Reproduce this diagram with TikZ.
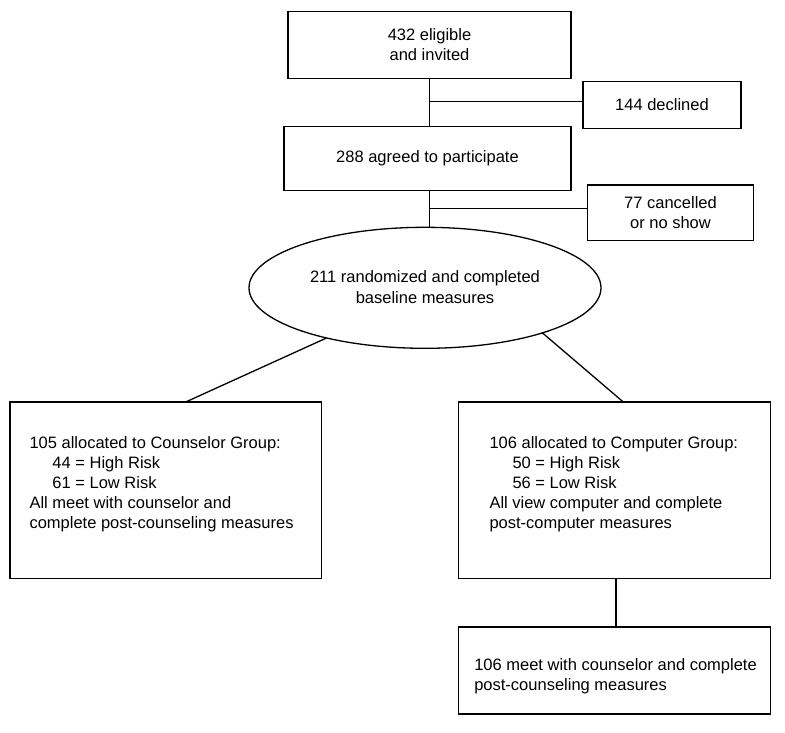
\documentclass[tikz,border=0pt]{standalone}
\usepackage{fontspec}
\setmainfont{Liberation Sans}
\usetikzlibrary{shapes.geometric}
\begin{document}
\begin{tikzpicture}[x=1pt,y=1pt,
  box/.style={draw, line width=1.3pt, inner sep=0pt, outer sep=0pt, align=center,
    font=\fontsize{16.5}{20}\selectfont},
  oval/.style={draw, ellipse, line width=1.3pt, inner sep=0pt, outer sep=0pt},
  txt/.style={inner sep=0pt, outer sep=0pt, font=\fontsize{16.5}{20}\selectfont},
  ovaltxt/.style={inner sep=0pt, outer sep=0pt, font=\fontsize{16.5}{20.5}\selectfont},
  link/.style={line width=1.3pt}]
\fill[white] (0,0) rectangle (785,-732);
\useasboundingbox (0,0) rectangle (785,-732);

% boxes
\node[box, minimum width=283pt, minimum height=67pt] (b1) at (429.5,-44.7)
  {432 eligible\\and invited};
\node[box, minimum width=158pt, minimum height=46.6pt] (dec) at (662,-105)
  {144 declined};
\node[box, minimum width=287pt, minimum height=63.6pt] (b2) at (427.5,-158.5)
  {288 agreed to participate};
\node[box, minimum width=165.6pt, minimum height=55.7pt] (can) at (670.5,-212.9)
  {77 cancelled\\or no show};
\node[oval, minimum width=352pt, minimum height=121pt] (ell) at (425,-287.8) {};
\node[box, minimum width=311.7pt, minimum height=176.3pt] (b3) at (165.85,-490.15) {};
\node[box, minimum width=312pt, minimum height=176.3pt] (b4) at (614.7,-490.15) {};
\node[box, minimum width=312pt, minimum height=87pt] (b5) at (614.7,-670.5) {};

% texts of the ellipse and of the lower boxes
\node[ovaltxt, anchor=base] (ellt) at (425,-282.5)
  {\begin{tabular}[t]{@{}c@{}}211 randomized and completed\\baseline measures\end{tabular}};
\node[txt, anchor=base west] (b3t) at (29.5,-448)
  {\begin{tabular}[t]{@{}l@{}}105 allocated to Counselor Group:\\
   \hspace*{23pt}44 = High Risk\\
   \hspace*{23pt}61 = Low Risk\\
   All meet with counselor and\\
   complete post-counseling measures\end{tabular}};
\node[txt, anchor=base west] (b4t) at (489.5,-448.5)
  {\begin{tabular}[t]{@{}l@{}}106 allocated to Computer Group:\\
   \hspace*{23pt}50 = High Risk\\
   \hspace*{23pt}56 = Low Risk\\
   All view computer and complete\\
   post-computer measures\end{tabular}};
\node[txt, anchor=base west] (b5t) at (474.3,-670.5)
  {\begin{tabular}[t]{@{}l@{}}106 meet with counselor and complete\\
   post-counseling measures\end{tabular}};

% junctions
\coordinate (j1) at (429.3,-101.5);
\coordinate (j2) at (429.3,-208.2);

% connectors
\draw[link] (b1.south -| j1) -- (b2.north -| j1);
\draw[link] (j1) -- (dec.west |- j1);
\draw[link] (b2.south -| j2) -- (ell.north -| j2);
\draw[link] (j2) -- (can.west |- j2);
\draw[link] (ell.207) -- ([xshift=19.85pt]b3.north);
\draw[link] (ell.339.3) -- ([xshift=8.6pt]b4.north);
\draw[link] ([xshift=1.3pt]b4.south) -- ([xshift=1.3pt]b5.north);
\end{tikzpicture}
\end{document}
